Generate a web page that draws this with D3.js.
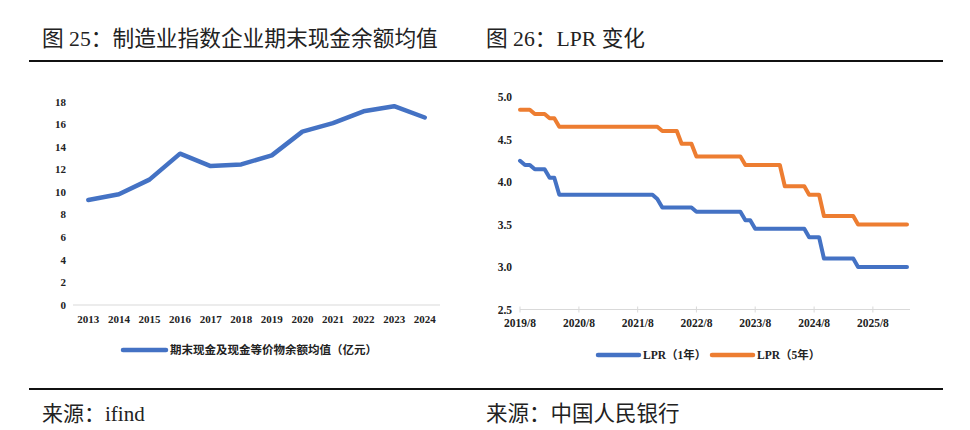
<!DOCTYPE html>
<html>
<head>
<meta charset="utf-8">
<script src="https://cdn.jsdelivr.net/npm/d3@7"></script>
<style>
  body { margin: 0; background: #fff; }
  svg { display: block; }
  .title, .source { font-family: "Liberation Serif", "Noto Sans CJK SC", serif; fill: #222; }
  .tick-label { font-family: "Liberation Serif", "Noto Sans CJK SC", serif; font-weight: bold; fill: #222; }
  .legend-label { font-family: "Liberation Serif", "Noto Sans CJK SC", serif; font-weight: bold; fill: #222; }
</style>
</head>
<body>
<svg id="chart" width="970" height="430"></svg>
<script>
// left chart: yearly cash balance averages
const years = ["2013","2014","2015","2016","2017","2018","2019","2020","2021","2022","2023","2024"];
const cashAvg = [9.3, 9.8, 11.1, 13.4, 12.3, 12.45, 13.25, 15.35, 16.1, 17.15, 17.6, 16.6];
const cashTicks = [0, 2, 4, 6, 8, 10, 12, 14, 16, 18];

// right chart: monthly LPR from 2019/8
const lprStart = "2019/8";
const lpr1y = [
  4.25, 4.20, 4.20, 4.15, 4.15,
  4.15, 4.05, 4.05, 3.85, 3.85, 3.85, 3.85, 3.85, 3.85, 3.85, 3.85, 3.85,
  3.85, 3.85, 3.85, 3.85, 3.85, 3.85, 3.85, 3.85, 3.85, 3.85, 3.85, 3.80,
  3.70, 3.70, 3.70, 3.70, 3.70, 3.70, 3.70, 3.65, 3.65, 3.65, 3.65, 3.65,
  3.65, 3.65, 3.65, 3.65, 3.65, 3.55, 3.55, 3.45, 3.45, 3.45, 3.45, 3.45,
  3.45, 3.45, 3.45, 3.45, 3.45, 3.45, 3.35, 3.35, 3.35, 3.10, 3.10, 3.10,
  3.10, 3.10, 3.10, 3.10, 3.00, 3.00, 3.00, 3.00, 3.00, 3.00, 3.00, 3.00,
  3.00, 3.00, 3.00
];
const lpr5y = [
  4.85, 4.85, 4.85, 4.80, 4.80,
  4.80, 4.75, 4.75, 4.65, 4.65, 4.65, 4.65, 4.65, 4.65, 4.65, 4.65, 4.65,
  4.65, 4.65, 4.65, 4.65, 4.65, 4.65, 4.65, 4.65, 4.65, 4.65, 4.65, 4.65,
  4.60, 4.60, 4.60, 4.60, 4.45, 4.45, 4.45, 4.30, 4.30, 4.30, 4.30, 4.30,
  4.30, 4.30, 4.30, 4.30, 4.30, 4.20, 4.20, 4.20, 4.20, 4.20, 4.20, 4.20,
  4.20, 3.95, 3.95, 3.95, 3.95, 3.95, 3.85, 3.85, 3.85, 3.60, 3.60, 3.60,
  3.60, 3.60, 3.60, 3.60, 3.50, 3.50, 3.50, 3.50, 3.50, 3.50, 3.50, 3.50,
  3.50, 3.50, 3.50
];
const lprTickLabels = ["2019/8","2020/8","2021/8","2022/8","2023/8","2024/8","2025/8"];
const lprYTicks = [2.5, 3.0, 3.5, 4.0, 4.5, 5.0];
const lprSeries = [
  { name: "LPR（1年）", values: lpr1y, color: "#4472C4" },
  { name: "LPR（5年）", values: lpr5y, color: "#ED7D31" }
];

const svg = d3.select("#chart");
svg.append("rect").attr("width", 970).attr("height", 430).attr("fill", "#fff");

// headers, rules and sources
svg.append("text").attr("class", "title").attr("x", 42).attr("y", 46)
  .style("font-size", "21.7px").text("图 25：制造业指数企业期末现金余额均值");
svg.append("text").attr("class", "title").attr("x", 486).attr("y", 46)
  .style("font-size", "21.7px").text("图 26：LPR 变化");
svg.append("line").attr("x1", 29).attr("x2", 943).attr("y1", 61).attr("y2", 61)
  .attr("stroke", "#111").attr("stroke-width", 2);
svg.append("line").attr("x1", 29).attr("x2", 943).attr("y1", 389).attr("y2", 389)
  .attr("stroke", "#111").attr("stroke-width", 2);
svg.append("text").attr("class", "source").attr("x", 42).attr("y", 421)
  .style("font-size", "21px").text("来源：ifind");
svg.append("text").attr("class", "source").attr("x", 486).attr("y", 421)
  .style("font-size", "21.5px").text("来源：中国人民银行");

// ---- left chart ----
const left = svg.append("g");
const xL = d3.scaleBand().domain(years).range([73, 440]);
const yL = d3.scaleLinear().domain([0, 18]).range([305, 101.7]);

left.append("line").attr("x1", 73).attr("x2", 440).attr("y1", yL(0)).attr("y2", yL(0))
  .attr("stroke", "#d9d9d9").attr("stroke-width", 1);

left.selectAll(".ytl").data(cashTicks).join("text")
  .attr("class", "tick-label ytl")
  .attr("x", 66).attr("y", d => yL(d)).attr("dy", "0.35em")
  .attr("text-anchor", "end").style("font-size", "11px")
  .text(d => d);

left.selectAll(".xtl").data(years).join("text")
  .attr("class", "tick-label xtl")
  .attr("x", d => xL(d) + xL.bandwidth() / 2).attr("y", 323)
  .attr("text-anchor", "middle").style("font-size", "11px")
  .text(d => d);

const lineL = d3.line()
  .x((d, i) => xL(years[i]) + xL.bandwidth() / 2)
  .y(d => yL(d));
left.append("path").datum(cashAvg)
  .attr("d", lineL).attr("fill", "none")
  .attr("stroke", "#4472C4").attr("stroke-width", 4.5)
  .attr("stroke-linejoin", "round").attr("stroke-linecap", "round");

left.append("line").attr("x1", 123).attr("x2", 166).attr("y1", 350).attr("y2", 350)
  .attr("stroke", "#4472C4").attr("stroke-width", 4.5).attr("stroke-linecap", "round");
left.append("text").attr("class", "legend-label").attr("x", 170).attr("y", 354)
  .style("font-size", "11.5px").text("期末现金及现金等价物余额均值（亿元）");

// ---- right chart ----
const right = svg.append("g");
const parseMonth = d3.timeParse("%Y/%m");
const startDate = parseMonth(lprStart);
const months = lpr1y.map((d, i) => d3.timeMonth.offset(startDate, i));
const xR = d3.scaleTime().domain([months[0], months[months.length - 1]]).range([520, 907]);
const yR = d3.scaleLinear().domain([2.5, 5.0]).range([309.5, 97]);

right.append("line").attr("x1", 520).attr("x2", 910).attr("y1", yR(2.5)).attr("y2", yR(2.5))
  .attr("stroke", "#d9d9d9").attr("stroke-width", 1);

right.selectAll(".xtick").data(lprTickLabels).join("line")
  .attr("class", "xtick")
  .attr("x1", d => xR(parseMonth(d))).attr("x2", d => xR(parseMonth(d)))
  .attr("y1", yR(2.5) - 3).attr("y2", yR(2.5) + 3)
  .attr("stroke", "#d9d9d9").attr("stroke-width", 1);

right.selectAll(".xtl").data(lprTickLabels).join("text")
  .attr("class", "tick-label xtl")
  .attr("x", d => xR(parseMonth(d))).attr("y", 327)
  .attr("text-anchor", "middle").style("font-size", "11.5px")
  .text(d => d);

right.selectAll(".ytl").data(lprYTicks).join("text")
  .attr("class", "tick-label ytl")
  .attr("x", 512).attr("y", d => yR(d)).attr("dy", "0.35em")
  .attr("text-anchor", "end").style("font-size", "11.5px")
  .text(d => d3.format(".1f")(d));

const lineR = d3.line()
  .x((d, i) => xR(months[i]))
  .y(d => yR(d));
right.selectAll(".lpr").data(lprSeries).join("path")
  .attr("class", "lpr")
  .attr("d", d => lineR(d.values)).attr("fill", "none")
  .attr("stroke", d => d.color).attr("stroke-width", 4)
  .attr("stroke-linejoin", "round").attr("stroke-linecap", "round");

const legX = [598, 712];
right.selectAll(".legline").data(lprSeries).join("line")
  .attr("class", "legline")
  .attr("x1", (d, i) => legX[i]).attr("x2", (d, i) => legX[i] + 41)
  .attr("y1", 355).attr("y2", 355)
  .attr("stroke", d => d.color).attr("stroke-width", 4.5).attr("stroke-linecap", "round");
right.selectAll(".legtext").data(lprSeries).join("text")
  .attr("class", "legend-label legtext")
  .attr("x", (d, i) => legX[i] + 45).attr("y", 359)
  .style("font-size", "11.5px")
  .text(d => d.name);
</script>
</body>
</html>
